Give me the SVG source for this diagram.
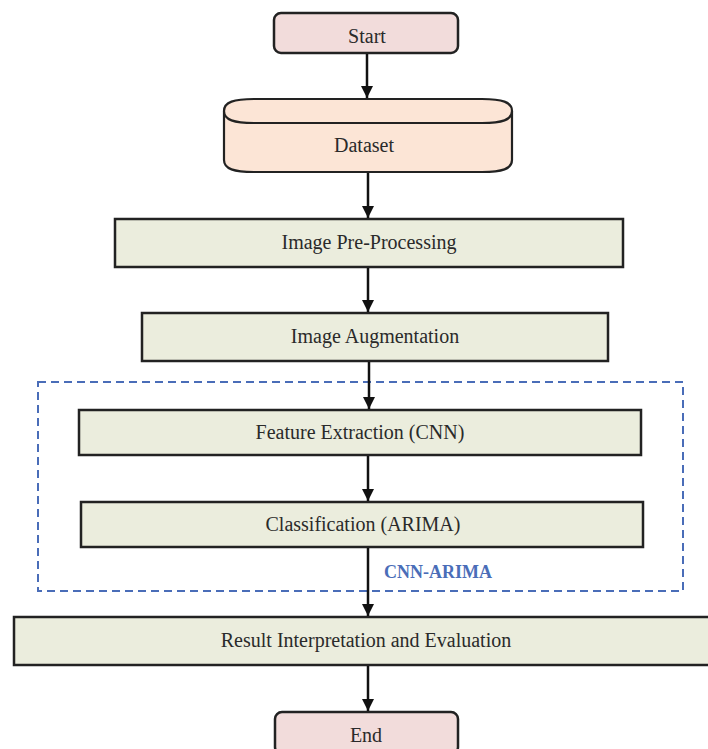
<svg xmlns="http://www.w3.org/2000/svg" width="708" height="749" viewBox="0 0 708 749">
<defs>
<style>
.t{font-family:"Liberation Serif","Times New Roman",serif;font-size:20px;fill:#2a2a2a;text-anchor:middle}
.term{fill:#F2DCDB;stroke:#222;stroke-width:2.5}
.proc{fill:#EBEDDD;stroke:#222;stroke-width:2.5}
.db{fill:#FCE5D6;stroke:#222;stroke-width:2.2}
.edge{stroke:#111;stroke-width:2.5;fill:none;marker-end:url(#ah)}
.grp{fill:none;stroke:#4A6DB8;stroke-width:2;stroke-dasharray:8 5}
.lbl{font-family:"Liberation Serif","Times New Roman",serif;font-size:18px;font-weight:bold;fill:#4A6DB8}
</style>
<marker id="ah" viewBox="0 0 10 10" refX="10" refY="5" markerWidth="5" markerHeight="5" markerUnits="strokeWidth" orient="auto">
<path d="M0,0 L10,5 L0,10 Z" fill="#111"/>
</marker>
</defs>
<rect width="708" height="749" fill="#fff"/>
<g id="cnn-arima-group">
<rect class="grp" x="38" y="382" width="645" height="209"/>
<text class="lbl" x="384" y="578">CNN-ARIMA</text>
</g>
<g id="start">
<rect class="term" x="274" y="13" width="184" height="40" rx="7"/>
<text class="t" x="367" y="43">Start</text>
</g>
<g id="dataset">
<path class="db" d="M224,111 L224,160 C224,169 234,172 254,172 L482,172 C502,172 512,169 512,160 L512,111"/>
<path class="db" d="M224,111 C224,102 234,99 254,99 L482,99 C502,99 512,102 512,111 C512,120 502,123 482,123 L254,123 C234,123 224,120 224,111 Z"/>
<text class="t" x="364" y="152">Dataset</text>
</g>
<g id="preprocessing">
<rect class="proc" x="115" y="219" width="508" height="48"/>
<text class="t" x="369" y="249">Image Pre-Processing</text>
</g>
<g id="augmentation">
<rect class="proc" x="142" y="313" width="466" height="48"/>
<text class="t" x="375" y="343">Image Augmentation</text>
</g>
<g id="feature">
<rect class="proc" x="79" y="410" width="562" height="45"/>
<text class="t" x="360" y="439">Feature Extraction (CNN)</text>
</g>
<g id="classification">
<rect class="proc" x="81" y="502" width="562" height="45"/>
<text class="t" x="363" y="531">Classification (ARIMA)</text>
</g>
<g id="result">
<rect class="proc" x="14" y="617" width="700" height="48"/>
<text class="t" x="366" y="647">Result Interpretation and Evaluation</text>
</g>
<g id="end">
<rect class="term" x="275" y="712" width="183" height="42" rx="7"/>
<text class="t" x="366" y="742">End</text>
</g>
<g id="connectors">
<line class="edge" x1="367" y1="54" x2="367" y2="98"/>
<line class="edge" x1="368" y1="173" x2="368" y2="218"/>
<line class="edge" x1="368" y1="268" x2="368" y2="312"/>
<line class="edge" x1="369" y1="362" x2="369" y2="409"/>
<line class="edge" x1="368" y1="456" x2="368" y2="501"/>
<line class="edge" x1="368" y1="548" x2="368" y2="616"/>
<line class="edge" x1="368" y1="666" x2="368" y2="711"/>
</g>
</svg>
